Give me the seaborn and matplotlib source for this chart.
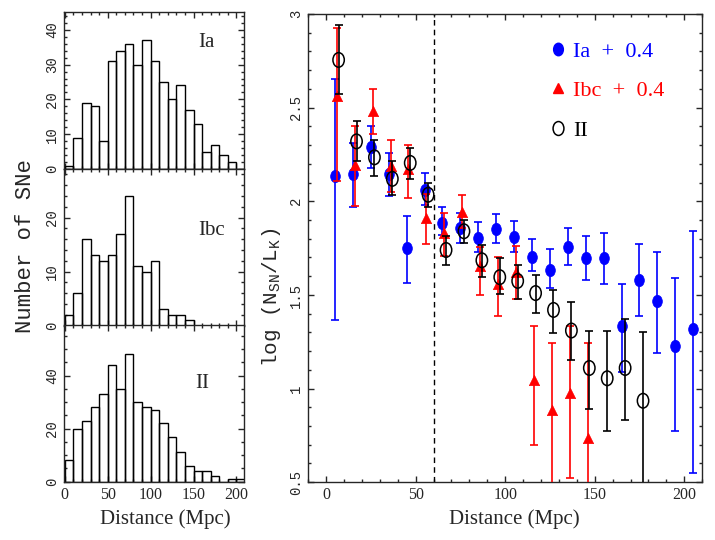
import matplotlib
matplotlib.use('Agg')
import numpy as np
import matplotlib.pyplot as plt
import seaborn as sns
from matplotlib.path import Path
from matplotlib.transforms import Affine2D
from matplotlib.ticker import MultipleLocator, FuncFormatter
from matplotlib.lines import Line2D

# --- histogram data: number of SNe in 10 Mpc bins (0-210 Mpc)
bin_edges = list(range(0, 220, 10))
counts_ia = [1, 9, 19, 18, 8, 31, 34, 36, 30, 37, 31, 25, 20, 24, 17, 13, 5, 7, 4, 2, 0]
counts_ibc = [2, 6, 16, 13, 12, 13, 17, 24, 11, 10, 12, 3, 2, 2, 1, 0, 0, 0, 0, 0, 0]
counts_ii = [8, 20, 23, 28, 33, 44, 35, 48, 30, 28, 27, 22, 17, 11, 6, 4, 4, 2, 0, 1, 1]

# --- log(N_SN / L_K) per distance bin, with lower / upper error bounds
dist_ia = [5, 15, 25, 35, 45, 55, 65, 75, 85, 95, 105, 115, 125, 135, 145, 155, 165, 175, 185, 195, 205]
logn_ia = [2.135, 2.145, 2.29, 2.145, 1.75, 2.06, 1.885, 1.855, 1.805, 1.85, 1.81,
           1.705, 1.635, 1.755, 1.695, 1.695, 1.335, 1.58, 1.47, 1.225, 1.32]
lo_ia = [1.365, 1.97, 2.18, 2.03, 1.565, 1.98, 1.82, 1.78, 1.73, 1.78, 1.73,
         1.63, 1.535, 1.66, 1.58, 1.56, 1.09, 1.385, 1.19, 0.775, 0.55]
hi_ia = [2.655, 2.31, 2.40, 2.26, 1.92, 2.15, 1.97, 1.935, 1.89, 1.93, 1.895,
         1.80, 1.745, 1.855, 1.815, 1.83, 1.56, 1.77, 1.73, 1.59, 1.84]

dist_ibc = [6, 16, 26, 36, 46, 56, 66, 76, 86, 96, 106, 116, 126, 136, 146]
logn_ibc = [2.56, 2.195, 2.48, 2.19, 2.17, 1.91, 1.83, 1.945, 1.655, 1.56, 1.62,
            1.045, 0.885, 0.975, 0.735]
lo_ibc = [2.11, 1.975, 2.36, 2.05, 2.02, 1.77, 1.71, 1.855, 1.50, 1.39, 1.48,
          0.70, 0.3, 0.525, 0.3]
hi_ibc = [2.925, 2.40, 2.60, 2.325, 2.30, 2.04, 1.94, 2.035, 1.755, 1.70, 1.76,
          1.335, 1.245, 1.335, 1.245]

dist_ii = [7, 17, 27, 37, 47, 57, 67, 77, 87, 97, 107, 117, 127, 137, 147, 157, 167, 177]
logn_ii = [2.755, 2.32, 2.235, 2.12, 2.205, 2.035, 1.74, 1.84, 1.685, 1.595, 1.575,
           1.51, 1.42, 1.31, 1.11, 1.055, 1.11, 0.935]
lo_ii = [2.575, 2.215, 2.135, 2.035, 2.12, 1.97, 1.66, 1.775, 1.595, 1.505, 1.48,
         1.405, 1.295, 1.155, 0.89, 0.775, 0.83, 0.3]
hi_ii = [2.94, 2.43, 2.33, 2.215, 2.285, 2.10, 1.815, 1.90, 1.765, 1.695, 1.66,
         1.605, 1.525, 1.46, 1.31, 1.31, 1.37, 1.30]

sns.set_style('ticks')
plt.rcParams['font.family'] = ['Liberation Serif', 'DejaVu Serif']
plt.rcParams['mathtext.fontset'] = 'custom'
plt.rcParams['mathtext.rm'] = 'Liberation Mono'
plt.rcParams['mathtext.it'] = 'Liberation Mono'
plt.rcParams['axes.linewidth'] = 1.0
MONO = 'Liberation Mono'

fig = plt.figure(figsize=(7.15, 5.4), dpi=100)

# --- left column: three stacked histograms
hist_specs = [
    ('Ia', counts_ia, 45, 2, [0, 10, 20, 30, 40], 0.79, 0.81),
    ('Ibc', counts_ibc, 29, 2, [0, 10, 20], 0.82, 0.61),
    ('II', counts_ii, 59, 5, [0, 20, 40], 0.77, 0.63),
]
bottoms = [0.687, 0.397, 0.108]
centers = [e + 5 for e in bin_edges[:-1]]
hist_axes = []
for (name, counts, ytop, yminor, yticks, tx, ty), b in zip(hist_specs, bottoms):
    ax = fig.add_axes([0.0895, b, 0.252, 0.290])
    sns.histplot(x=centers, weights=counts, bins=bin_edges, fill=False,
                 color='black', linewidth=1.0, ax=ax)
    ax.set_xlim(-1, 209)
    ax.set_ylim(0, ytop)
    ax.set_ylabel('')
    ax.set_xlabel('')
    ax.xaxis.set_major_locator(MultipleLocator(50))
    ax.xaxis.set_minor_locator(MultipleLocator(10))
    ax.set_yticks(yticks)
    ax.yaxis.set_minor_locator(MultipleLocator(yminor))
    ax.tick_params(which='both', direction='in', top=True, right=True, width=1.0)
    ax.tick_params(which='major', length=4.5, labelsize=11.5)
    ax.tick_params(which='minor', length=2.4)
    for lab in ax.get_yticklabels():
        lab.set_rotation(90)
        lab.set_va('center')
        lab.set_family(MONO)
        lab.set_fontsize(10)
    ax.text(tx, ty, name, transform=ax.transAxes, fontsize=15, ha='center', va='center')
    hist_axes.append(ax)
for ax in hist_axes[:2]:
    ax.tick_params(labelbottom=False)

fig.text(0.036, 0.545, 'Number of SNe', rotation=90, ha='center', va='center',
         family=MONO, fontsize=16)
fig.text(0.231, 0.039, 'Distance (Mpc)', ha='center', va='center', fontsize=15)

# --- right panel: log(N_SN/L_K) vs distance
ax = fig.add_axes([0.431, 0.107, 0.551, 0.867])
ellipse = Path.unit_circle().transformed(Affine2D().scale(0.78, 1.0))

ax.errorbar(dist_ia, logn_ia,
            yerr=[np.subtract(logn_ia, lo_ia), np.subtract(hi_ia, logn_ia)],
            fmt='none', ecolor='blue', elinewidth=1.2, capsize=3, capthick=1.2)
sns.scatterplot(x=dist_ia, y=logn_ia, marker=ellipse, s=80, color='blue',
                edgecolor='blue', linewidth=0.5, ax=ax, zorder=3)

ax.errorbar(dist_ibc, logn_ibc,
            yerr=[np.subtract(logn_ibc, lo_ibc), np.subtract(hi_ibc, logn_ibc)],
            fmt='none', ecolor='red', elinewidth=1.2, capsize=3, capthick=1.2, zorder=4)
sns.scatterplot(x=dist_ibc, y=logn_ibc, marker='^', s=55, color='red',
                edgecolor='red', linewidth=0.5, ax=ax, zorder=5)

ax.errorbar(dist_ii, logn_ii,
            yerr=[np.subtract(logn_ii, lo_ii), np.subtract(hi_ii, logn_ii)],
            fmt='none', ecolor='black', elinewidth=1.2, capsize=3, capthick=1.2, zorder=6)
sns.scatterplot(x=dist_ii, y=logn_ii, marker=ellipse, s=110, facecolor='none',
                edgecolor='black', linewidth=1.1, ax=ax, zorder=7)

ax.axvline(60, color='black', lw=1.0, ls=(0, (4, 3)))

ax.set_xlim(-10, 210)
ax.set_ylim(0.5, 3)
ax.xaxis.set_major_locator(MultipleLocator(50))
ax.xaxis.set_minor_locator(MultipleLocator(10))
ax.yaxis.set_major_locator(MultipleLocator(0.5))
ax.yaxis.set_minor_locator(MultipleLocator(0.1))
ax.yaxis.set_major_formatter(FuncFormatter(lambda v, p: '%g' % v))
ax.tick_params(which='both', direction='in', top=True, right=True, width=1.0)
ax.tick_params(which='major', length=4.5, labelsize=11.5)
ax.tick_params(which='minor', length=2.4)
for lab in ax.get_yticklabels():
    lab.set_rotation(90)
    lab.set_va('center')
    lab.set_family(MONO)
    lab.set_fontsize(10)
ax.set_xlabel('')
ax.set_ylabel('')

fig.text(0.72, 0.039, 'Distance (Mpc)', ha='center', va='center', fontsize=15)
fig.text(0.38, 0.45, r'log (N$_{\mathrm{SN}}$/L$_{\mathrm{K}}$)', rotation=90,
         ha='center', va='center', family=MONO, fontsize=15)

handles = [
    Line2D([], [], ls='none', marker=ellipse, markersize=9, color='blue'),
    Line2D([], [], ls='none', marker='^', markersize=7.5, color='red'),
    Line2D([], [], ls='none', marker=ellipse, markersize=10, markerfacecolor='none',
           markeredgecolor='black', markeredgewidth=1.1),
]
leg = ax.legend(handles, ['Ia  +  0.4', 'Ibc  +  0.4', 'II'], loc='upper left',
                bbox_to_anchor=(0.56, 0.985), frameon=False, fontsize=16,
                handlelength=0.8, handletextpad=0.3, labelspacing=0.85,
                labelcolor=['blue', 'red', 'black'])

fig.savefig('out.png', dpi=100)
